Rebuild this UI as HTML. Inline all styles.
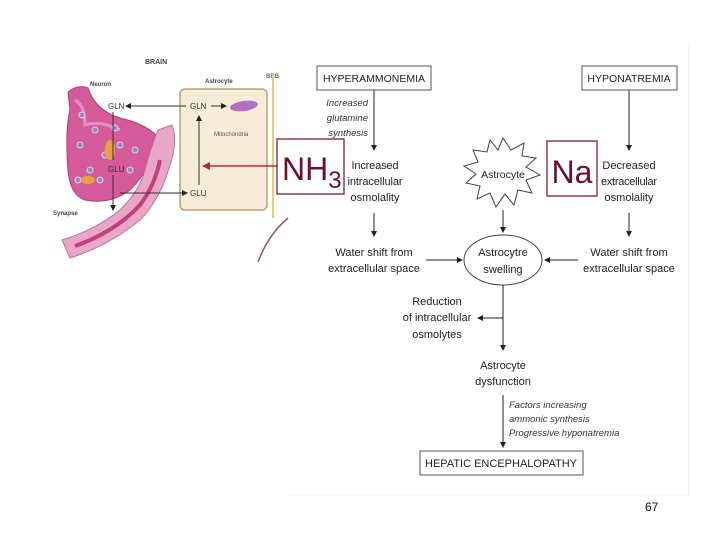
<!DOCTYPE html>
<html><head><meta charset="utf-8"><style>
html,body{margin:0;padding:0;background:#fff;width:720px;height:540px;overflow:hidden}
svg{display:block}
text{font-family:"Liberation Sans",sans-serif}
</style></head><body>
<svg width="720" height="540" viewBox="0 0 720 540" xmlns="http://www.w3.org/2000/svg">
<defs>
<marker id="a" markerWidth="6" markerHeight="6" refX="5" refY="3" orient="auto" markerUnits="userSpaceOnUse"><path d="M0,0 L6,3 L0,6 z" fill="#222"/></marker>
<marker id="r" markerWidth="8" markerHeight="8" refX="7" refY="4" orient="auto" markerUnits="userSpaceOnUse"><path d="M0,0 L8,4 L0,8 z" fill="#c0282a"/></marker>
</defs>
<line x1="689" y1="42" x2="689" y2="495" stroke="#eee"/>
<line x1="288" y1="495" x2="689" y2="495" stroke="#f0f0f0"/>
<!-- Brain picture -->
<text x="145" y="64" font-size="7" font-weight="bold" fill="#445">BRAIN</text>
<text x="90" y="86" font-size="6" font-weight="bold" fill="#445">Neuron</text>
<text x="53" y="215" font-size="6" font-weight="bold" fill="#445">Synapse</text>
<text x="205" y="83" font-size="6" font-weight="bold" fill="#445">Astrocyte</text>
<text x="266" y="78" font-size="6" font-weight="bold" fill="#667">BBB</text>
<path d="M68,92 Q78,84 88,88 Q95,110 120,118 Q150,125 160,140 Q150,170 130,190 Q110,205 85,200 Q70,195 68,170 Q65,130 70,110 Z" fill="#d45a9a" stroke="#b03a7a"/>
<path d="M75,100 Q85,105 85,125 Q100,120 120,130" fill="none" stroke="#e890c0" stroke-width="3"/>
<g fill="#8a8fc0" stroke="#ece" stroke-width="1">
<circle cx="82" cy="115" r="3"/><circle cx="95" cy="130" r="3"/><circle cx="80" cy="145" r="3"/><circle cx="105" cy="155" r="3"/><circle cx="90" cy="170" r="3"/><circle cx="120" cy="145" r="3"/><circle cx="130" cy="170" r="3"/><circle cx="100" cy="180" r="3"/><circle cx="115" cy="128" r="3"/><circle cx="78" cy="180" r="3"/><circle cx="135" cy="150" r="3"/>
</g>
<ellipse cx="110" cy="150" rx="5" ry="10" fill="#e8a040"/><ellipse cx="88" cy="180" rx="7" ry="4" fill="#e8a040"/>
<path d="M62,240 Q95,230 120,210 Q140,190 145,170 Q150,150 158,130 L172,125 Q178,140 170,165 Q160,200 140,220 Q110,245 70,258 Z" fill="#e8a6c8" stroke="#c070a0"/>
<path d="M75,246 Q115,232 140,205 Q155,185 160,160" fill="none" stroke="#c4407a" stroke-width="4"/>
<rect x="180" y="89" width="87" height="121" rx="5" fill="#f7ecd8" stroke="#b8a070" stroke-width="1.5"/>
<line x1="273" y1="75" x2="273" y2="218" stroke="#e6cc70" stroke-width="2"/>
<text x="108" y="109" font-size="8" fill="#333">GLN</text>
<text x="108" y="172" font-size="8" fill="#333">GLU</text>
<text x="190" y="109" font-size="8" fill="#333">GLN</text>
<text x="190" y="196" font-size="8" fill="#333">GLU</text>
<text x="214" y="136" font-size="6" fill="#555">Mitochondria</text>
<ellipse cx="244" cy="106" rx="14" ry="5" fill="#b070c0" transform="rotate(-8 244 106)"/>
<g stroke="#333" stroke-width="1" fill="none">
<line x1="186" y1="106" x2="126" y2="106" marker-end="url(#a)"/>
<line x1="211" y1="106" x2="226" y2="106" marker-end="url(#a)"/>
<line x1="199" y1="185" x2="199" y2="116" marker-end="url(#a)"/>
<line x1="120" y1="193" x2="187" y2="193" marker-end="url(#a)"/>
<line x1="113" y1="112" x2="113" y2="160"/>
<line x1="113" y1="175" x2="113" y2="210" marker-end="url(#a)"/>
</g>
<line x1="278" y1="166" x2="203" y2="166" stroke="#c0282a" stroke-width="1.5" marker-end="url(#r)"/>
<path d="M288,218 Q268,235 258,262" fill="none" stroke="#9a5060" stroke-width="1.5"/>
<!-- Flowchart shapes -->
<polygon points="503,138 511,150 524,143 522,156 536,158 526,167 540,175 526,180 532,193 518,190 514,205 505,194 496,207 490,193 477,199 480,186 466,183 476,174 464,166 478,162 473,150 487,152 490,140 498,150" fill="#fff" stroke="#444"/>
<ellipse cx="503" cy="260" rx="39" ry="25" fill="#fff" stroke="#444"/>
<g stroke="#222" stroke-width="1" fill="none">
<line x1="374" y1="90" x2="374" y2="150" marker-end="url(#a)"/>
<line x1="629" y1="90" x2="629" y2="150" marker-end="url(#a)"/>
<line x1="374" y1="213" x2="374" y2="236" marker-end="url(#a)"/>
<line x1="629" y1="213" x2="629" y2="236" marker-end="url(#a)"/>
<line x1="503" y1="210" x2="503" y2="232" marker-end="url(#a)"/>
<line x1="426" y1="260" x2="462" y2="260" marker-end="url(#a)"/>
<line x1="578" y1="260" x2="545" y2="260" marker-end="url(#a)"/>
<line x1="503" y1="285" x2="503" y2="350" marker-end="url(#a)"/>
<line x1="503" y1="318" x2="478" y2="318" marker-end="url(#a)"/>
<line x1="503" y1="395" x2="503" y2="447" marker-end="url(#a)"/>
</g>
<g font-size="11" fill="#222">
<rect x="317" y="66" width="114" height="24" fill="#fff" stroke="#555"/>
<text x="374" y="82" text-anchor="middle" font-size="10.5">HYPERAMMONEMIA</text>
<rect x="582" y="66" width="95" height="24" fill="#fff" stroke="#555"/>
<text x="629" y="82" text-anchor="middle" font-size="10.5">HYPONATREMIA</text>
<g font-style="italic" font-size="9.5" text-anchor="end" fill="#333">
<text x="368" y="106">Increased</text><text x="368" y="121">glutamine</text><text x="368" y="136">synthesis</text>
</g>
<g text-anchor="middle" font-size="11">
<text x="375" y="169" textLength="47">Increased</text><text x="375" y="185" textLength="55">intracellular</text><text x="375" y="201">osmolality</text>
<text x="629" y="169">Decreased</text><text x="629" y="185" textLength="56">extracellular</text><text x="629" y="201">osmolality</text>
<text x="374" y="256">Water shift from</text><text x="374" y="272">extracellular space</text>
<text x="629" y="256">Water shift from</text><text x="629" y="272">extracellular space</text>
<text x="503" y="256">Astrocytre</text><text x="503" y="273">swelling</text>
<text x="503" y="178" font-size="10.5">Astrocyte</text>
<text x="437" y="305">Reduction</text><text x="437" y="321">of intracellular</text><text x="437" y="338">osmolytes</text>
<text x="503" y="369">Astrocyte</text><text x="503" y="385">dysfunction</text>
</g>
<g font-style="italic" font-size="9.5" fill="#333">
<text x="509" y="408">Factors increasing</text><text x="509" y="422">ammonic synthesis</text><text x="509" y="436">Progressive hyponatremia</text>
</g>
<rect x="420" y="451" width="163" height="24" fill="#fff" stroke="#555"/>
<text x="501" y="467" text-anchor="middle" font-size="11">HEPATIC ENCEPHALOPATHY</text>
</g>
<rect x="277" y="139" width="67" height="55" fill="#fff" stroke="#6b0f2a" stroke-width="1.2"/>
<text x="282" y="180" font-size="32" fill="#6b0f2a">NH<tspan font-size="24" dy="8">3</tspan></text>
<rect x="547" y="141" width="50" height="55" fill="#fff" stroke="#6b0f2a" stroke-width="1.2"/>
<text x="572" y="183" font-size="32" fill="#6b0f2a" text-anchor="middle">Na</text>
<text x="645" y="511" font-size="12" fill="#111">67</text>
</svg>
</body></html>
